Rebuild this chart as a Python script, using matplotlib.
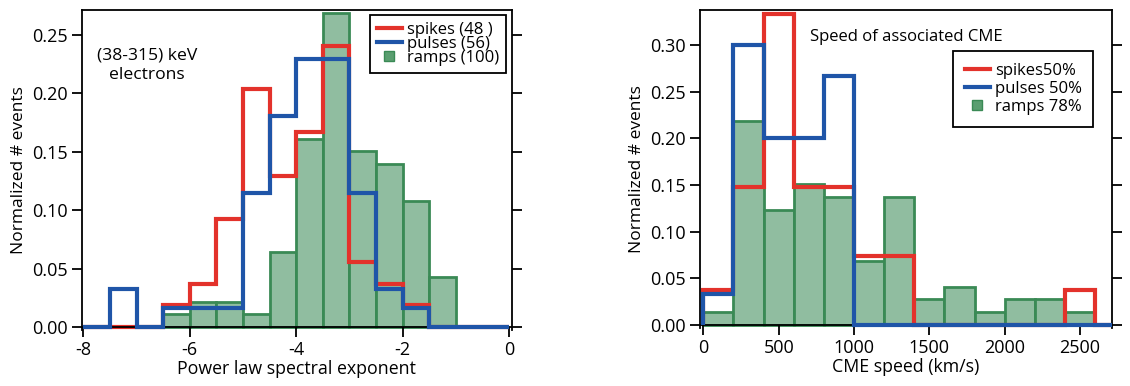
import matplotlib
matplotlib.use("Agg")
import numpy as np
import matplotlib.pyplot as plt
from matplotlib.lines import Line2D

plt.rcParams['font.family'] = ['Open Sans', 'DejaVu Sans']

# left panel: power law spectral exponent, bins of 0.5 from -8 to 0
exp_edges = np.arange(-8, 0.01, 0.5)
exp_spikes = np.array([0, 0, 0, 1, 2, 5, 11, 7, 9, 13, 3, 2, 1, 0, 0, 0]) / 54
exp_pulses = np.array([0, 2, 0, 1, 1, 1, 7, 11, 14, 14, 7, 2, 1, 0, 0, 0]) / 61
exp_ramps = np.array([0, 0, 0, 1, 2, 2, 1, 6, 15, 25, 14, 13, 10, 4, 0, 0]) / 93

# right panel: CME speed, bins of 200 km/s
cme_edges = np.arange(0, 2801, 200)
cme_spikes = np.array([1, 4, 9, 4, 4, 2, 2, 0, 0, 0, 0, 0, 1, 0]) / 27
cme_pulses = np.array([1, 9, 6, 6, 8, 0, 0, 0, 0, 0, 0, 0, 0, 0]) / 30
cme_ramps = np.array([1, 16, 9, 11, 10, 5, 10, 2, 3, 1, 2, 2, 1, 0]) / 73

red = '#e3322b'
blue = '#1f55a8'
g_edge = '#3a8a55'
g_fill = '#90bda0'

fig = plt.figure(figsize=(11.3, 3.86), dpi=100)
ax1 = fig.add_axes([0.0723, 0.1438, 0.3805, 0.829])
ax2 = fig.add_axes([0.6195, 0.1508, 0.3646, 0.823])


def draw(ax, edges, ramps, spikes, pulses):
    ax.bar(edges[:-1], ramps, width=np.diff(edges), align='edge',
           color=g_fill, edgecolor=g_edge, linewidth=2, zorder=1)
    ax.stairs(spikes, edges, color=red, linewidth=3, zorder=2)
    ax.stairs(pulses, edges, color=blue, linewidth=3, zorder=3)
    for s in ax.spines.values():
        s.set_linewidth(1.3)
    ax.spines['bottom'].set_position(('data', 0))
    ax.tick_params(direction='out', length=7, width=1.3, labelsize=13,
                   right=True, pad=3)
    ax.set_ylabel('Normalized # events', fontsize=12.5, labelpad=4)


draw(ax1, exp_edges, exp_ramps, exp_spikes, exp_pulses)
ax1.set_xlim(-8.03, 0.05)
ax1.set_ylim(-0.003, 0.271)
ax1.set_xticks([-8, -6, -4, -2, 0])
ax1.set_xticklabels(['-8', '-6', '-4', '-2', '0'])
ax1.set_yticks([0, 0.05, 0.10, 0.15, 0.20, 0.25])
ax1.yaxis.set_major_formatter('{x:.2f}')
ax1.set_xlabel('Power law spectral exponent', fontsize=12.8, labelpad=1)
ax1.text(-6.8, 0.224, '(38-315) keV\nelectrons', ha='center', va='center',
         fontsize=12.6, linespacing=1.35)

draw(ax2, cme_edges, cme_ramps, cme_spikes, cme_pulses)
ax2.set_xlim(-22, 2712)
ax2.set_ylim(-0.003, 0.3376)
ax2.set_xticks([0, 500, 1000, 1500, 2000, 2500])
ax2.set_yticks([0, 0.05, 0.10, 0.15, 0.20, 0.25, 0.30])
ax2.yaxis.set_major_formatter('{x:.2f}')
ax2.set_xlabel('CME speed (km/s)', fontsize=12.8, labelpad=1)
ax2.text(708, 0.309, 'Speed of associated CME', fontsize=12, va='center')


def handles():
    return [Line2D([], [], color=red, lw=3),
            Line2D([], [], color=blue, lw=3),
            Line2D([], [], marker='s', ls='none', markersize=7,
                   markerfacecolor='#5a9e70', markeredgecolor=g_edge)]


leg1 = ax1.legend(handles(), ['spikes (48 )', 'pulses (56)', 'ramps (100)'],
                  loc='upper right', bbox_to_anchor=(0.99, 0.99),
                  fontsize=12, frameon=True, fancybox=False, edgecolor='black',
                  framealpha=1, labelspacing=-0.12, handlelength=1.5,
                  handletextpad=0.3, borderpad=0.4, borderaxespad=0.1)
leg1.get_frame().set_linewidth(1.3)

leg2 = ax2.legend(handles(), ['spikes50%', 'pulses 50%', 'ramps 78%'],
                  loc='upper right', bbox_to_anchor=(0.955, 0.87),
                  fontsize=12, frameon=True, fancybox=False, edgecolor='black',
                  framealpha=1, labelspacing=0.12, handlelength=1.5,
                  handletextpad=0.3, borderpad=0.7, borderaxespad=0)
leg2.get_frame().set_linewidth(1.3)

fig.savefig('out.png', dpi=100)
